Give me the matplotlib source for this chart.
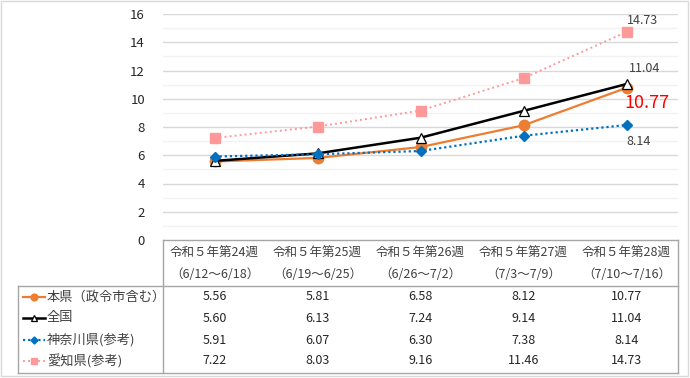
import matplotlib
matplotlib.use('Agg')
import matplotlib.pyplot as plt
from matplotlib.lines import Line2D
from matplotlib.patches import Rectangle

plt.rcParams['font.family'] = ['Noto Sans CJK JP', 'DejaVu Sans']

# データ
weeks = ['令和５年第24週', '令和５年第25週', '令和５年第26週', '令和５年第27週', '令和５年第28週']
periods = ['（6/12～6/18）', '（6/19～6/25）', '（6/26～7/2）', '（7/3～7/9）', '（7/10～7/16）']
names = ['本県（政令市含む）', '全国', '神奈川県(参考)', '愛知県(参考)']
honken = [5.56, 5.81, 6.58, 8.12, 10.77]
zenkoku = [5.60, 6.13, 7.24, 9.14, 11.04]
kanagawa = [5.91, 6.07, 6.30, 7.38, 8.14]
aichi = [7.22, 8.03, 9.16, 11.46, 14.73]

series = [honken, zenkoku, kanagawa, aichi]
styles = [
    dict(color='#ED7D31', lw=1.6, ls='-', marker='o', ms=7.5, mfc='#ED7D31', mec='#ED7D31', mew=1.0),
    dict(color='black', lw=1.8, ls='-', marker='^', ms=7.5, mfc='white', mec='black', mew=0.9),
    dict(color='#0070C0', lw=1.6, ls=(0, (1, 1.3)), marker='D', ms=5.5, mfc='#0070C0', mec='#0070C0', mew=1.0),
    dict(color='#FF9999', lw=1.4, ls=(0, (1, 1.6)), marker='s', ms=7.5, mfc='#FF9999', mec='#FF9999', mew=1.0),
]

W, H = 690, 378
fig = plt.figure(figsize=(W / 100, H / 100), dpi=100)

# グラフ部分
x0, x1, ytop, ybot = 163, 678, 14, 240
ax = fig.add_axes([x0 / W, (H - ybot) / H, (x1 - x0) / W, (ybot - ytop) / H])
ax.set_xlim(0, 5)
ax.set_ylim(0, 16)
for v in range(1, 16, 2):
    ax.axhline(v, color='#F2F2F2', lw=1.0, zorder=0)
for v in range(2, 17, 2):
    ax.axhline(v, color='#D9D9D9', lw=1.0, zorder=0)
xs = [i + 0.5 for i in range(5)]
for vals, st in zip(series, styles):
    ax.plot(xs, vals, zorder=3, clip_on=False, **st)
ax.set_yticks(range(0, 17, 2))
ax.set_xticks([])
ax.tick_params(axis='y', length=0, pad=13, labelsize=9.5, labelcolor='#262626')
for s in ax.spines.values():
    s.set_visible(False)

# データラベル（最終週のみ）
ax.annotate(f'{aichi[-1]:.2f}', (xs[-1], aichi[-1]), xytext=(11.5, 8), textcoords='offset points',
            ha='center', va='center', fontsize=9, color='#404040')
ax.annotate(f'{zenkoku[-1]:.2f}', (xs[-1], zenkoku[-1]), xytext=(13, 11.5), textcoords='offset points',
            ha='center', va='center', fontsize=9, color='#404040')
ax.annotate(f'{honken[-1]:.2f}', (xs[-1], honken[-1]), xytext=(15, -11), textcoords='offset points',
            ha='center', va='center', fontsize=13, color='#FF0000')
ax.annotate(f'{kanagawa[-1]:.2f}', (xs[-1], kanagawa[-1]), xytext=(8.5, -12), textcoords='offset points',
            ha='center', va='center', fontsize=9, color='#404040')

# 表部分（ピクセル座標）
ov = fig.add_axes([0, 0, 1, 1])
ov.set_xlim(0, W)
ov.set_ylim(H, 0)
ov.axis('off')
ov.patch.set_alpha(0)

ov.add_patch(Rectangle((1, 1), W - 3, H - 3, fill=False, ec='#D9D9D9', lw=1.0))
lc = '#A6A6A6'
tl, tt, th, tb = 18, 240, 286, 373
ov.plot([x0, x1], [tt, tt], color=lc, lw=1.0)
ov.plot([x0, x0], [tt, tb], color=lc, lw=1.0)
ov.plot([x1, x1], [tt, tb], color=lc, lw=1.0)
ov.plot([tl, x1], [th, th], color=lc, lw=1.0)
ov.plot([tl, tl], [th, tb], color=lc, lw=1.0)
ov.plot([tl, x1], [tb, tb], color=lc, lw=1.0)

cw = (x1 - x0) / 5
for i in range(5):
    cx = x0 + cw * (i + 0.5)
    ov.text(cx, 253, weeks[i], ha='center', va='center', fontsize=9, color='#404040')
    ov.text(cx, 275, periods[i], ha='center', va='center', fontsize=9, color='#404040')

row_y = [297, 318, 340, 361]
for r, (nm, vals, st) in enumerate(zip(names, series, styles)):
    y = row_y[r]
    ov.add_line(Line2D([23, 45], [y, y], color=st['color'], lw=st['lw'], ls=st['ls']))
    ov.add_line(Line2D([34], [y], marker=st['marker'], ms=st['ms'] * 0.65, mfc=st['mfc'],
                       mec=st['mec'], mew=st['mew'], ls='none'))
    ov.text(47, y, nm, ha='left', va='center', fontsize=9.5, color='#404040')
    for i in range(5):
        ov.text(x0 + cw * (i + 0.5), y, f'{vals[i]:.2f}', ha='center', va='center',
                fontsize=9, color='#262626')

fig.savefig('out.png', dpi=100)
